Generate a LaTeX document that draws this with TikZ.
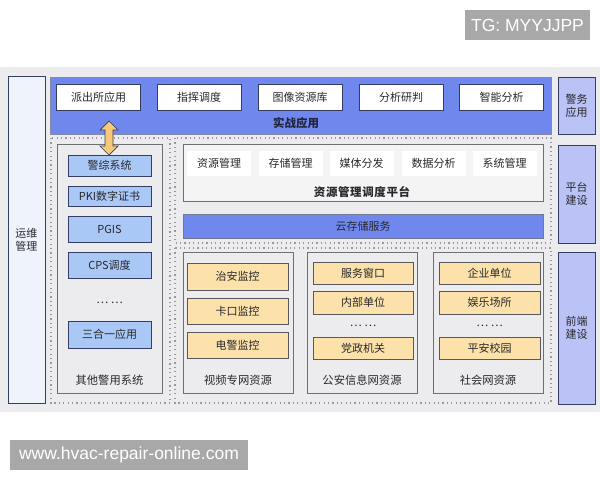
\documentclass[tikz,border=0pt]{standalone}
\usepackage{fontspec}
\setmainfont{Liberation Sans}
\newfontfamily\cjk{Noto Sans CJK SC}
\usetikzlibrary{positioning}
\definecolor{bggray}{RGB}{236,236,238}
\definecolor{bandblue}{RGB}{112,136,238}
\definecolor{lav}{RGB}{186,194,246}
\definecolor{skyb}{RGB}{170,200,246}
\definecolor{paleb}{RGB}{238,243,252}
\definecolor{orng}{RGB}{252,226,170}
\definecolor{darkb}{RGB}{52,62,100}
\definecolor{cgray}{RGB}{110,110,115}
\definecolor{txt}{RGB}{40,40,45}
\definecolor{wm}{RGB}{168,168,168}
\definecolor{arr}{RGB}{246,200,120}
\newcommand{\lsp}{\kern0.6pt}
\tikzset{
  bx/.style={rectangle, inner sep=0pt, font=\cjk\fontsize{11}{13}\selectfont, text=txt},
  topbox/.style={bx, draw=darkb, line width=0.9pt, fill=white, minimum width=84pt, minimum height=26pt},
  sidebox/.style={bx, draw=darkb, line width=0.9pt, fill=lav, minimum width=37pt, align=center},
  skybox/.style={bx, draw=darkb, line width=0.9pt, fill=skyb, minimum width=83pt},
  orbox/.style={bx, draw=cgray!80!black, line width=0.9pt, fill=orng},
  contbox/.style={bx, draw=cgray, line width=0.9pt, fill=bggray},
  whbox/.style={bx, fill=white, minimum width=64pt, minimum height=25pt},
  lbl/.style={bx, font=\cjk\bfseries\fontsize{11.5}{13}\selectfont},
  plbl/.style={bx, font=\cjk\fontsize{11.3}{13}\selectfont},
  dotbox/.style={draw=cgray!70, line width=1.2pt, dash pattern=on 1.2pt off 3.2pt},
  wmbox/.style={rectangle, fill=wm, text=white, font=\fontsize{17.5}{19}\selectfont, inner sep=0pt}
}
\begin{document}
\begin{tikzpicture}[x=1pt,y=-1pt]
\useasboundingbox (0,0) rectangle (600,480);
\fill[white] (0,0) rectangle (600,480);
% background band
\fill[bggray] (0,67) rectangle (600,412);
% left bar
\node[bx, draw=darkb, line width=0.9pt, fill=paleb, minimum width=37pt, minimum height=327pt, align=center] (ops) at (26.5,239.5) {运维\\管理};
% top blue band
\node[bx, draw=darkb!60, line width=0.6pt, fill=bandblue, minimum width=501pt, minimum height=57pt] (band) at (300.5,105.5) {};
\node[lbl, text=darkb!60!black] (bandlbl) at (296,123.5) {实战应用};
\node[topbox] (t1) at (98.5,97) {派出所应用};
\node[topbox] (t2) at (199,97) {指挥调度};
\node[topbox] (t3) at (300,97) {图像资源库};
\node[topbox] (t4) at (401,97) {分析研判};
\node[topbox] (t5) at (501.5,97) {智能分析};
% right side boxes
\node[sidebox, minimum height=57pt] (s1) at (576.5,105.5) {警务\\应用};
\node[sidebox, minimum height=98pt] (s2) at (576.5,194) {平台\\建设};
\node[sidebox, minimum height=152pt] (s3) at (576.5,328) {前端\\建设};
% dotted regions
\draw[dotbox] (51,138) rectangle (170,403);
\draw[dotbox] (175,138) rectangle (551,243);
\draw[dotbox] (175,248) rectangle (551,403);
% other police systems
\node[contbox, minimum width=105pt, minimum height=249pt] (other) at (109.5,268.5) {};
\node[skybox, minimum height=21pt] (o1) at (109.5,165.5) {警综系统};
\node[skybox, minimum height=20pt] (o2) at (109.5,196) {PKI数字证书};
\node[skybox, minimum height=26pt] (o3) at (109.5,229) {PGIS};
\node[skybox, minimum height=26pt] (o4) at (109.5,265) {CPS调度};
\node[plbl] (o5) at (109.5,303) {… …};
\node[skybox, minimum height=27pt] (o6) at (109.5,334.5) {三合一应用};
\node[plbl] (otherlbl) at (109.5,380) {其他警用系统};
% double arrow
\draw[darkb, line width=0.7pt, fill=arr] (109,121) -- (118,130) -- (113,130) -- (113,146) -- (118,146) -- (109,155) -- (100,146) -- (105,146) -- (105,130) -- (100,130) -- cycle;
% platform
\node[contbox, fill=bggray!60!white, minimum width=360pt, minimum height=57pt] (plat) at (363,172.5) {};
\node[whbox] (p1) at (219,163.5) {资源管理};
\node[whbox] (p2) at (290.5,163.5) {存储管理};
\node[whbox] (p3) at (361.5,163.5) {媒体分发};
\node[whbox] (p4) at (433.5,163.5) {数据分析};
\node[whbox] (p5) at (504.5,163.5) {系统管理};
\node[lbl] (platlbl) at (362,192) {资\lsp 源\lsp 管\lsp 理\lsp 调\lsp 度\lsp 平\lsp 台};
% cloud storage
\node[bx, draw=darkb!70, line width=0.8pt, fill=bandblue, minimum width=360pt, minimum height=24pt] (cloud) at (363,226) {云存储服务};
% lower containers
\node[contbox, minimum width=110pt, minimum height=141pt] (c1) at (238,322.5) {};
\node[contbox, minimum width=110pt, minimum height=141pt] (c2) at (362,322.5) {};
\node[contbox, minimum width=110pt, minimum height=141pt] (c3) at (488,322.5) {};
\node[orbox, minimum width=101pt, minimum height=27pt] (v1) at (237.5,276.5) {治安监控};
\node[orbox, minimum width=101pt, minimum height=26pt] (v2) at (237.5,311) {卡口监控};
\node[orbox, minimum width=101pt, minimum height=26pt] (v3) at (237.5,345) {电警监控};
\node[plbl] (c1lbl) at (238,380) {视频专网资源};
\node[orbox, minimum width=100pt, minimum height=22pt] (g1) at (363,273) {服务窗口};
\node[orbox, minimum width=100pt, minimum height=23pt] (g2) at (363,302.5) {内部单位};
\node[plbl] (g3) at (363,326) {… …};
\node[orbox, minimum width=100pt, minimum height=22pt] (g4) at (363,348) {党政机关};
\node[plbl] (c2lbl) at (362,380) {公安信息网资源};
\node[orbox, minimum width=101pt, minimum height=22pt] (h1) at (489.5,273) {企业单位};
\node[orbox, minimum width=101pt, minimum height=23pt] (h2) at (489.5,302.5) {娱乐场所};
\node[plbl] (h3) at (489.5,326) {… …};
\node[orbox, minimum width=101pt, minimum height=22pt] (h4) at (489.5,348) {平安校园};
\node[plbl] (c3lbl) at (488,380) {社会网资源};
% watermarks
\node[wmbox, minimum width=125pt, minimum height=30pt] (wm1) at (527.5,25) {TG: MYYJJPP};
\node[wmbox, minimum width=238pt, minimum height=30pt] (wm2) at (129,455) {www.hvac-repair-online.com};
\end{tikzpicture}
\end{document}
